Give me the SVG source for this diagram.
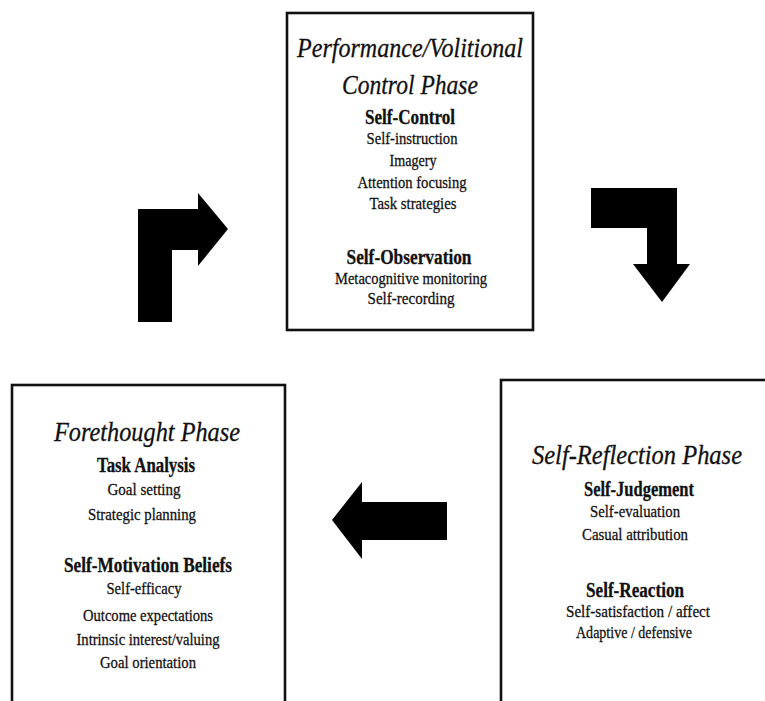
<svg xmlns="http://www.w3.org/2000/svg" width="765" height="701" viewBox="0 0 765 701">
  <style>
    .box { fill: #ffffff; stroke: #111111; stroke-width: 2.6; }
    .arrow { fill: #000000; stroke: none; }
    text { font-family: "Liberation Serif", "Times New Roman", serif; fill: #111111; stroke: #111111; stroke-width: 0.3; text-anchor: middle; }
    .title { font-size: 28px; font-style: italic; }
    .head { font-size: 20.5px; font-weight: bold; }
    .item { font-size: 17.5px; }
  </style>
  <rect width="765" height="701" fill="#ffffff"/>

  <!-- Performance / volitional control phase -->
  <g id="performance-phase">
    <rect class="box" x="287" y="13" width="246" height="317"/>
    <text class="title" x="410" y="57" textLength="226" lengthAdjust="spacingAndGlyphs">Performance/Volitional</text>
    <text class="title" x="410" y="94" textLength="136" lengthAdjust="spacingAndGlyphs">Control Phase</text>
    <text class="head" x="410" y="124" textLength="90" lengthAdjust="spacingAndGlyphs">Self-Control</text>
    <text class="item" x="412" y="144" textLength="91" lengthAdjust="spacingAndGlyphs">Self-instruction</text>
    <text class="item" x="413" y="166" textLength="47" lengthAdjust="spacingAndGlyphs">Imagery</text>
    <text class="item" x="412" y="188" textLength="109" lengthAdjust="spacingAndGlyphs">Attention focusing</text>
    <text class="item" x="413" y="209" textLength="87" lengthAdjust="spacingAndGlyphs">Task strategies</text>
    <text class="head" x="409" y="264" textLength="125" lengthAdjust="spacingAndGlyphs">Self-Observation</text>
    <text class="item" x="411" y="284" textLength="152" lengthAdjust="spacingAndGlyphs">Metacognitive monitoring</text>
    <text class="item" x="411" y="304" textLength="87" lengthAdjust="spacingAndGlyphs">Self-recording</text>
  </g>

  <!-- Forethought phase (runs past the lower edge) -->
  <g id="forethought-phase">
    <rect class="box" x="12" y="385" width="273" height="318"/>
    <text class="title" x="147" y="441" textLength="186" lengthAdjust="spacingAndGlyphs">Forethought Phase</text>
    <text class="head" x="146" y="472" textLength="98" lengthAdjust="spacingAndGlyphs">Task Analysis</text>
    <text class="item" x="144" y="495" textLength="73" lengthAdjust="spacingAndGlyphs">Goal setting</text>
    <text class="item" x="142" y="520" textLength="108" lengthAdjust="spacingAndGlyphs">Strategic planning</text>
    <text class="head" x="148" y="572" textLength="168" lengthAdjust="spacingAndGlyphs">Self-Motivation Beliefs</text>
    <text class="item" x="144" y="594" textLength="75" lengthAdjust="spacingAndGlyphs">Self-efficacy</text>
    <text class="item" x="148" y="621" textLength="130" lengthAdjust="spacingAndGlyphs">Outcome expectations</text>
    <text class="item" x="148" y="645" textLength="143" lengthAdjust="spacingAndGlyphs">Intrinsic interest/valuing</text>
    <text class="item" x="148" y="668" textLength="96" lengthAdjust="spacingAndGlyphs">Goal orientation</text>
  </g>

  <!-- Self-reflection phase (runs past the right and lower edges) -->
  <g id="self-reflection-phase">
    <rect class="box" x="501" y="380" width="266" height="323"/>
    <text class="title" x="637" y="464" textLength="210" lengthAdjust="spacingAndGlyphs">Self-Reflection Phase</text>
    <text class="head" x="639" y="496" textLength="110" lengthAdjust="spacingAndGlyphs">Self-Judgement</text>
    <text class="item" x="635" y="517" textLength="90" lengthAdjust="spacingAndGlyphs">Self-evaluation</text>
    <text class="item" x="635" y="540" textLength="106" lengthAdjust="spacingAndGlyphs">Casual attribution</text>
    <text class="head" x="635" y="597" textLength="98" lengthAdjust="spacingAndGlyphs">Self-Reaction</text>
    <text class="item" x="638" y="617" textLength="144" lengthAdjust="spacingAndGlyphs">Self-satisfaction / affect</text>
    <text class="item" x="634" y="638" textLength="116" lengthAdjust="spacingAndGlyphs">Adaptive / defensive</text>
  </g>

  <!-- Block arrows running round the cycle -->
  <g id="connectors">
    <polygon class="arrow" points="138,322 138,209 198,209 198,193 228,229 198,266 198,250 172,250 172,322"/>
    <polygon class="arrow" points="591,188 677,188 677,264 690,264 662,302 633,264 647,264 647,228 591,228"/>
    <polygon class="arrow" points="447,502 362,502 362,482 332,520 362,559 362,540 447,540"/>
  </g>
</svg>
